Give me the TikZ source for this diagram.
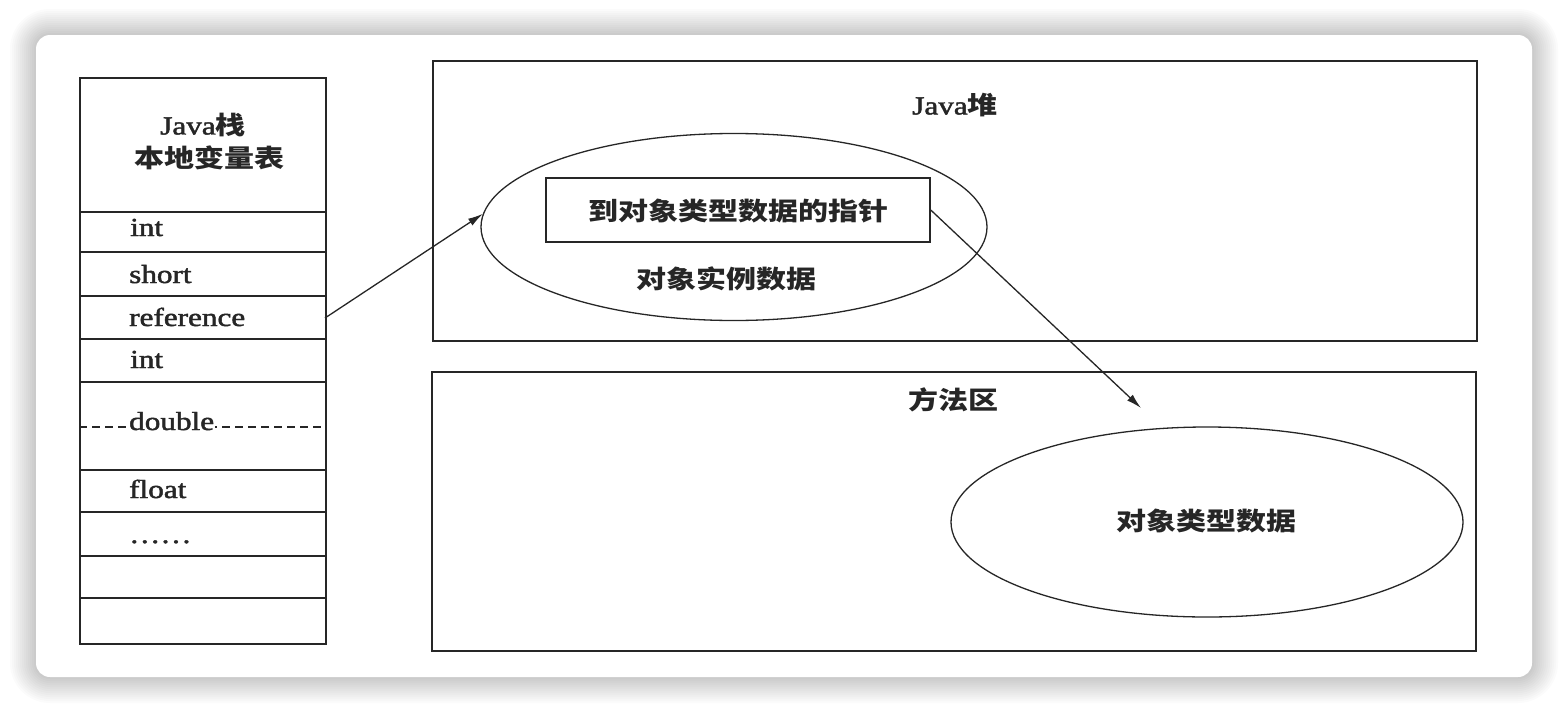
\documentclass[tikz,border=0pt]{standalone}
\usepackage{fontspec}
\usepackage{graphicx}
\setmainfont{Liberation Serif}
\newfontfamily\latf{Liberation Serif}[FakeBold=1.6]
\newfontfamily\cjk{Noto Sans CJK SC}
\usetikzlibrary{shapes.geometric,arrows.meta}
\newcommand{\hs}[1]{\scalebox{1.2}[1]{#1}}
\definecolor{ink}{HTML}{262626}
\tikzset{
  box/.style={draw=ink, line width=1.5pt, rectangle, inner sep=0pt},
  ell/.style={draw=ink, line width=1.3pt, ellipse, inner sep=0pt},
  lat/.style={font=\fontsize{26}{30}\selectfont\latf, text=ink, inner sep=0pt},
  zh/.style={font=\fontsize{25}{30}\selectfont\cjk\bfseries, text=ink, inner sep=0pt},
  arr/.style={draw=ink, line width=1.3pt, -{Latex[length=15pt,width=8pt]}},
  row/.style={draw=ink, line width=1.5pt},
}
\begin{document}
\begin{tikzpicture}[x=1pt,y=-1pt]
\useasboundingbox (0,0) rectangle (1568,712);
\fill[white] (0,0) rectangle (1568,712);
% soft shadow
\foreach \d in {2,4,...,26}{
  \fill[black, opacity=0.014, rounded corners=14pt+\d pt] (36-\d,35-\d) rectangle (1532+\d,677+\d);
}
\fill[white, rounded corners=14pt] (36,35) rectangle (1532,677);

% Java stack
\node[box, minimum width=246pt, minimum height=566pt, anchor=north west] (stack) at (79,77) {};
\foreach \yy in {212,252,296,339,382,470,512,556,598}{
  \draw[row] (79,\yy) -- (325,\yy);
}
\draw[ink, line width=1.2pt, dash pattern=on 8pt off 5pt] (79,427) -- (325,427);
\node[lat, align=center] (hdr1) at (203,125) {\hs{Java{\fontsize{25}{30}\selectfont\cjk\bfseries 栈}}};
\node[zh] (hdr2) at (209,158) {\hs{本地变量表}};
\node[lat, anchor=base west] (s1) at (130,236) {\hs{int}};
\node[lat, anchor=base west] (s2) at (129,283) {\hs{short}};
\node[lat, anchor=base west] (s3) at (129,326) {\hs{reference}};
\node[lat, anchor=base west] (s4) at (130,368) {\hs{int}};
\node[lat, anchor=base west, fill=white, inner xsep=1pt] (s5) at (128,430) {\hs{double}};
\node[lat, anchor=base west] (s6) at (129,498) {\hs{float}};
\node[lat, anchor=base west] (s7) at (129,543) {\hs{……}};

% Java heap
\node[box, minimum width=1044pt, minimum height=280pt, anchor=north west] (heap) at (432,60) {};
\node[lat] (heaplbl) at (955,105) {\hs{Java{\fontsize{25}{30}\selectfont\cjk\bfseries 堆}}};
\node[ell, minimum width=506pt, minimum height=187pt] (heapobj) at (734,227) {};
\node[box, minimum width=384pt, minimum height=64pt] (ptr) at (738,210) {};
\node[zh] (ptrlbl) at (738,211) {\hs{到对象类型数据的指针}};
\node[zh] (inst) at (726,279) {\hs{对象实例数据}};

% Method area
\node[box, minimum width=1044pt, minimum height=279pt, anchor=north west] (method) at (431,371) {};
\node[zh] (methlbl) at (953,400) {\hs{方法区}};
\node[ell, minimum width=512pt, minimum height=190pt] (typeobj) at (1207,522) {};
\node[zh] (typelbl) at (1206,521) {\hs{对象类型数据}};

% connectors
\coordinate (refout) at (325,318);
\coordinate (typetip) at (1141,408);
\draw[arr] (refout) -- (heapobj.177);
\draw[arr] (ptr.east) -- (typetip);
\end{tikzpicture}
\end{document}
